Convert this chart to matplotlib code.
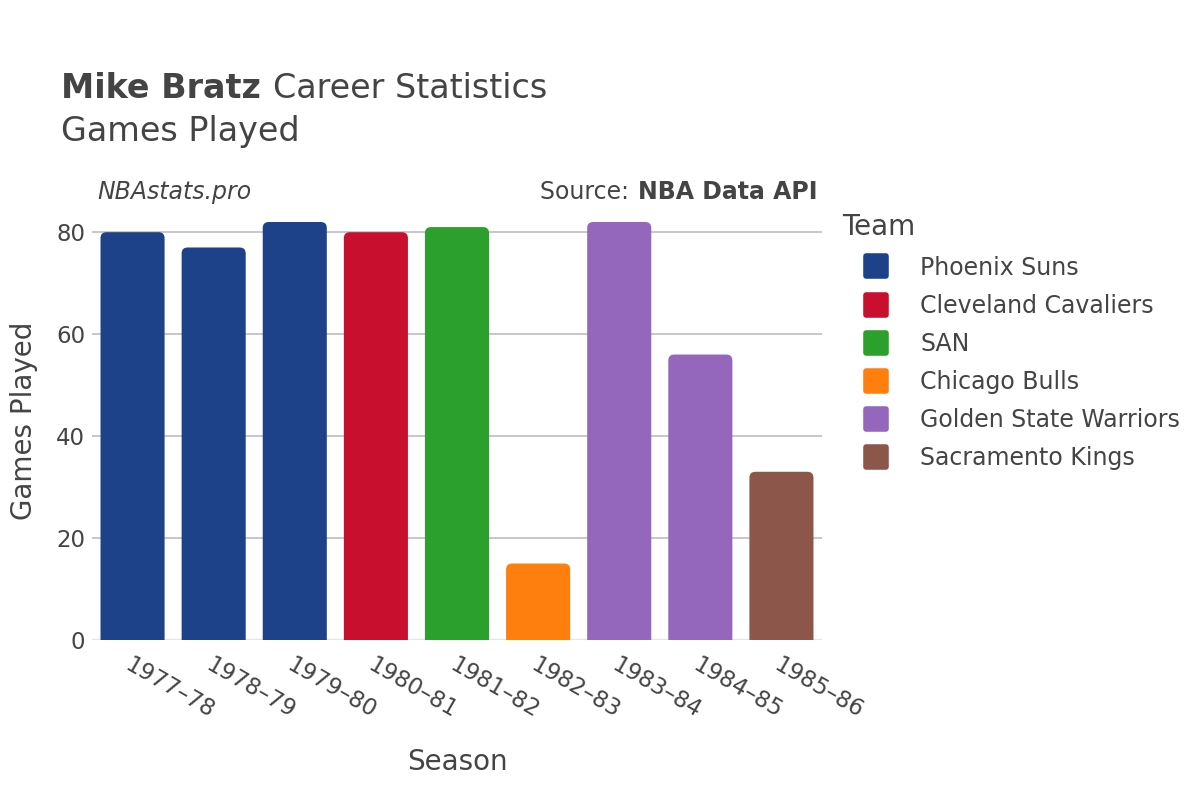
import matplotlib
matplotlib.use("Agg")
import matplotlib.pyplot as plt
from matplotlib.patches import FancyBboxPatch
from matplotlib.lines import Line2D
from matplotlib.markers import MarkerStyle

seasons = ["1977–78", "1978–79", "1979–80", "1980–81", "1981–82", "1982–83", "1983–84", "1984–85", "1985–86"]
games = [80, 77, 82, 80, 81, 15, 82, 56, 33]
teams = ["Phoenix Suns", "Phoenix Suns", "Phoenix Suns", "Cleveland Cavaliers", "SAN", "Chicago Bulls",
         "Golden State Warriors", "Golden State Warriors", "Sacramento Kings"]
team_order = ["Phoenix Suns", "Cleveland Cavaliers", "SAN", "Chicago Bulls", "Golden State Warriors", "Sacramento Kings"]
team_colors = {
    "Phoenix Suns": "#1d428a",
    "Cleveland Cavaliers": "#c8102e",
    "SAN": "#2ca02c",
    "Chicago Bulls": "#ff7f0e",
    "Golden State Warriors": "#9467bd",
    "Sacramento Kings": "#8c564b",
}

TXT = "#444444"
plt.rcParams['font.family'] = ['DejaVu Sans']

fig = plt.figure(figsize=(12, 8), dpi=100)
ax = fig.add_axes([92/1200, 0.2, (822-92)/1200, 0.548])

ax.set_xlim(-0.5, len(seasons) - 0.5)
ax.set_ylim(0, 86)

bars = ax.bar(range(len(seasons)), games, width=0.79,
              color=[team_colors[t] for t in teams], zorder=3)

# replace bars by rounded-top versions using the bar geometry
fig.canvas.draw()
data_per_px_x = (ax.get_xlim()[1] - ax.get_xlim()[0]) / ax.bbox.width
data_per_px_y = (ax.get_ylim()[1] - ax.get_ylim()[0]) / ax.bbox.height
rad_px = 6
for b in bars:
    x, y = b.get_x(), b.get_y()
    w, h = b.get_width(), b.get_height()
    col = b.get_facecolor()
    b.set_visible(False)
    rx = rad_px * data_per_px_x
    ry = rad_px * data_per_px_y
    aspect = data_per_px_y / data_per_px_x
    p = FancyBboxPatch((x + rx, y), w - 2 * rx, h - ry,
                       boxstyle=f"round,pad={rx}", mutation_aspect=aspect,
                       facecolor=col, edgecolor="none", zorder=3, clip_on=True)
    ax.add_patch(p)

ax.set_yticks([0, 20, 40, 60, 80])
ax.yaxis.grid(True, color="#bdbdbd", linewidth=1.2, zorder=0)
ax.set_axisbelow(True)
for s in ax.spines.values():
    s.set_visible(False)
ax.axhline(0, color="#e6e6e6", linewidth=2.5, zorder=2)

ax.set_xticks(range(len(seasons)))
ax.set_xticklabels(seasons, rotation=-30, ha="left", va="top", rotation_mode="anchor",
                   fontsize=16.5, color=TXT)
ax.tick_params(axis="x", length=0, pad=10)
ax.tick_params(axis="y", length=0, pad=5, labelsize=16.5, labelcolor=TXT)

ax.set_xlabel("Season", fontsize=20, color=TXT, labelpad=18)
ax.set_ylabel("Games Played", fontsize=20, color=TXT, labelpad=13)

t1 = fig.text(61/1200, 1 - 89/800, "Mike Bratz", fontsize=24, fontweight="bold", color=TXT, va="center")
fig.canvas.draw()
bb = t1.get_window_extent()
fig.text((bb.x1 + 12) / 1200, 1 - 89/800, "Career Statistics", fontsize=24, color=TXT, va="center")
fig.text(61/1200, 1 - 132/800, "Games Played", fontsize=24, color=TXT, va="center")

fig.text(97/1200, 1 - 192/800, "NBAstats.pro", fontsize=17, style="italic", color=TXT, va="center")
t2 = fig.text(818/1200, 1 - 192/800, "NBA Data API", fontsize=17, fontweight="bold", color=TXT,
              va="center", ha="right")
fig.canvas.draw()
bb2 = t2.get_window_extent()
fig.text((bb2.x0 - 2) / 1200, 1 - 192/800, "Source: ", fontsize=17, color=TXT, va="center", ha="right")

ms = MarkerStyle("s", joinstyle="round")
handles = [Line2D([0], [0], marker=ms, linestyle="none", markersize=15, markeredgewidth=4,
                  markerfacecolor=team_colors[t], markeredgecolor=team_colors[t]) for t in team_order]
leg = fig.legend(handles, team_order, loc="upper left", bbox_to_anchor=(833/1200, 1 - 204/800),
                 frameon=False, fontsize=17, title="Team", title_fontsize=20,
                 labelspacing=0.6, handletextpad=0.5, borderaxespad=0, handlelength=2.8)
leg._legend_box.align = "left"
for t in leg.get_texts():
    t.set_color(TXT)
leg.get_title().set_color(TXT)

fig.savefig("out.png", dpi=100, facecolor="white")
